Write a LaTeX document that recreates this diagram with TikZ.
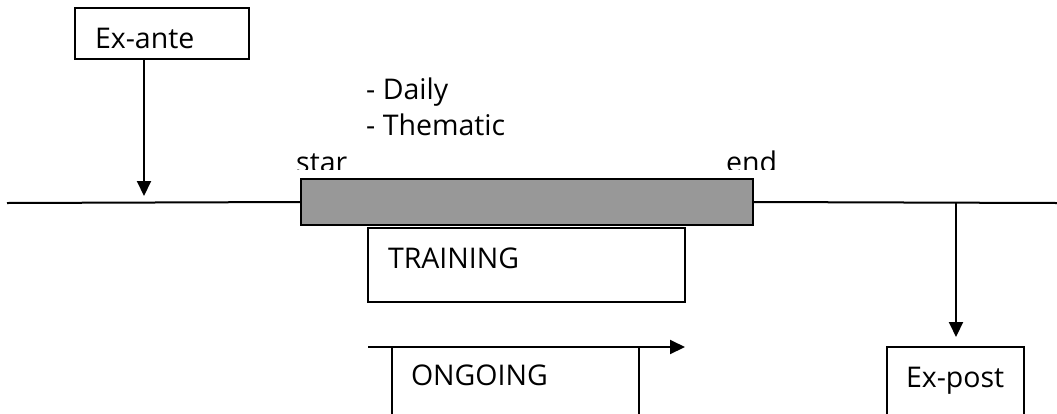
\documentclass[tikz,border=0pt]{standalone}
\usepackage{fontspec}
\setmainfont{Open Sans}
\usetikzlibrary{arrows.meta}
\definecolor{barfill}{RGB}{152,152,152}
\tikzset{
  line/.style={line width=2pt, black},
  tip/.style={-{Triangle[length=15pt,width=14pt]}},
  labelbox/.style={draw, line width=2pt, rectangle, align=left,
    inner ysep=0pt, font=\fontsize{28.5}{36}\selectfont},
  plain/.style={inner sep=0pt, font=\fontsize{28.5}{36}\selectfont},
}
\begin{document}
\begin{tikzpicture}[x=1pt, y=-1pt]
  \useasboundingbox (0,0) rectangle (1057,413);
  \clip (0,0) rectangle (1057,413);

  % phase boxes
  \node[labelbox, minimum width=174pt, minimum height=51pt,
        inner xsep=20pt, text width=134pt, text height=29pt, text depth=0pt]
        (exante) at (162,33.5) {Ex-ante};
  \node[labelbox, minimum width=317pt, minimum height=74pt,
        inner xsep=20pt, text width=277pt, text height=18pt, text depth=12pt]
        (training) at (526.5,265) {TRAINING};
  \node[labelbox, minimum width=247pt, minimum height=83pt,
        inner xsep=19pt, text width=209pt, text height=18pt, text depth=25pt]
        (ongoing) at (515.5,388.5) {ONGOING};
  \node[labelbox, minimum width=137pt, minimum height=83pt,
        inner xsep=19pt, text width=99pt, text height=18pt, text depth=21pt]
        (expost) at (955.5,388.5) {Ex-post};

  % training period on the time line
  \node[draw, line width=2pt, fill=barfill, minimum width=452pt,
        minimum height=46pt, inner sep=0pt] (bar) at (527,202) {};
  \coordinate (tl) at (7,203);
  \coordinate (tr) at (1057,203);
  \draw[line] (tl) -- (bar.west);
  \draw[line] (bar.east) -- (tr);

  % kinds of training
  \node[plain, anchor=base west, align=left] (kinds) at (366,135)
        {- Daily\\- Thematic};

  % start and end marks, cut off along the top of the bar
  \begin{scope}
    \clip (250,120) rectangle (800,169);
    \node[plain, anchor=base west] (start) at (296,172) {star};
    \node[plain, anchor=base west] (finish) at (726,172) {end};
  \end{scope}

  % arrows
  \coordinate (anteTip) at (144,196);
  \draw[line, tip] (exante.south -| anteTip) -- (anteTip);
  \coordinate (postFoot) at (956,203);
  \draw[line, tip, shorten >=9pt] (postFoot) -- (postFoot |- expost.north);
  \coordinate (ogStart) at (368,347);
  \coordinate (ogEnd) at (685,347);
  \draw[line, tip] (ogStart) -- (ogEnd);
\end{tikzpicture}
\end{document}
